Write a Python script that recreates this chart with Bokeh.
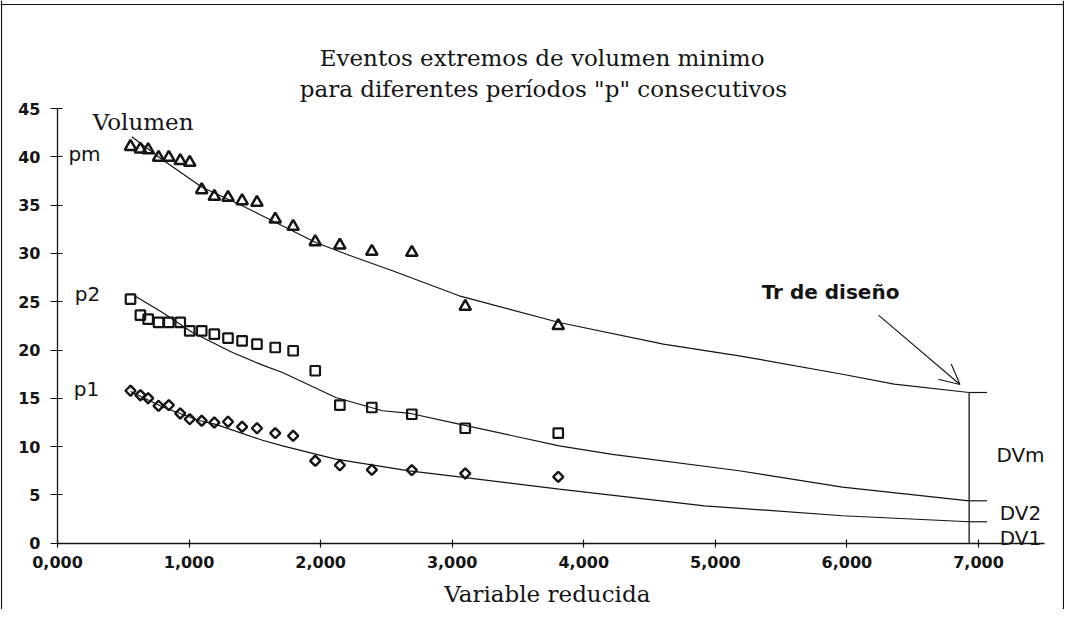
import math
from bokeh.plotting import figure
from bokeh.models import Range1d, FixedTicker, Span, Arrow, OpenHead, Label
from bokeh.embed import file_html
from bokeh.resources import INLINE

# ---------------- data ----------------
x_reducida = [0.555, 0.630, 0.689, 0.768, 0.846, 0.933, 1.005, 1.096, 1.192, 1.296,
              1.403, 1.516, 1.655, 1.791, 1.959, 2.146, 2.389, 2.693, 3.099, 3.806]
vol_pm = [41.06, 40.79, 40.72, 39.93, 39.93, 39.59, 39.41, 36.58, 35.89, 35.79,
          35.44, 35.27, 33.54, 32.78, 31.20, 30.85, 30.20, 30.09, 24.50, 22.51]
vol_p2 = [25.26, 23.60, 23.19, 22.85, 22.85, 22.85, 21.99, 21.99, 21.64, 21.22,
          20.95, 20.60, 20.26, 19.92, 17.85, 14.29, 14.05, 13.35, 11.90, 11.39]
vol_p1 = [15.78, 15.32, 15.01, 14.22, 14.29, 13.43, 12.84, 12.67, 12.49, 12.57,
          12.05, 11.90, 11.39, 11.12, 8.53, 8.07, 7.60, 7.56, 7.22, 6.87]

curve_pm_x = [0.565, 0.798, 1.102, 1.381, 1.659, 1.963, 2.217, 2.546, 3.053, 3.813,
              4.605, 5.181, 5.966, 6.359, 6.929]
curve_pm_y = [42.07, 39.69, 36.82, 35.09, 33.20, 31.13, 29.81, 28.20, 25.61, 22.85,
              20.60, 19.40, 17.49, 16.46, 15.60]
curve_p2_x = [0.595, 0.798, 1.026, 1.330, 1.558, 1.710, 2.115, 2.470, 2.683, 3.053,
              3.813, 4.218, 5.181, 5.966, 6.929]
curve_p2_y = [25.54, 23.88, 21.81, 19.74, 18.43, 17.67, 15.08, 13.71, 13.43, 12.32,
              10.08, 9.20, 7.50, 5.80, 4.39]
curve_p1_x = [0.555, 0.800, 1.076, 1.203, 1.558, 1.710, 2.115, 2.673, 3.053, 3.813,
              4.918, 5.966, 6.929]
curve_p1_y = [15.70, 14.10, 12.70, 12.30, 10.66, 10.08, 8.70, 7.49, 6.87, 5.59,
              3.87, 2.84, 2.22]

design_x = 6.929
design_dv = [15.60, 4.39, 2.22]
design_labels = ["DVm", "DV2", "DV1"]

x_ticks = [0, 1, 2, 3, 4, 5, 6, 7]
x_tick_labels = ["0,000", "1,000", "2,000", "3,000", "4,000", "5,000", "6,000", "7,000"]
y_ticks = [0, 5, 10, 15, 20, 25, 30, 35, 40, 45]

title_lines = ["Eventos extremos de volumen minimo",
               "para diferentes períodos \"p\" consecutivos"]
x_label = "Variable reducida"
y_label = "Volumen"
series_labels = ["pm", "p2", "p1"]

# ---------------- layout ----------------
W, H = 1064, 609
PX_X0, PX_PER_X = 57.0, 131.57     # canvas px of x = 0, px per unit
PX_Y0, PX_PER_Y = 542.7, 9.66      # canvas px (from top) of y = 0, px per unit

def dx(px):
    return (px - PX_X0) / PX_PER_X

def dy(py):
    return (PX_Y0 - py) / PX_PER_Y

p = figure(width=W, height=H, output_backend="svg", toolbar_location=None, tools="",
           x_range=Range1d(dx(0), dx(W)), y_range=Range1d(dy(H), dy(0)),
           min_border=0, min_border_left=0, min_border_right=0,
           min_border_top=0, min_border_bottom=0)
p.outline_line_color = None
p.grid.visible = False
p.background_fill_color = "white"
p.border_fill_color = "white"

INK = "#141414"

# axes fixed at the origin
for ax in (p.xaxis[0], p.yaxis[0]):
    ax.fixed_location = 0
    ax.axis_line_color = INK
    ax.axis_line_width = 1.3
    ax.major_tick_line_color = INK
    ax.major_tick_line_width = 1.2
    ax.minor_tick_line_color = None
    ax.major_label_text_font = "DejaVu Sans"
    ax.major_label_text_font_style = "bold"
    ax.major_label_text_font_size = "16px"
    ax.major_label_text_color = INK

xa = p.xaxis[0]
xa.bounds = (0, 7.5)
xa.ticker = FixedTicker(ticks=x_ticks)
xa.major_label_overrides = {t: lab for t, lab in zip(x_ticks, x_tick_labels)}
xa.major_tick_in = 4
xa.major_tick_out = 4
xa.major_label_standoff = 9

ya = p.yaxis[0]
ya.bounds = (0, 45)
ya.ticker = FixedTicker(ticks=y_ticks)
ya.major_tick_in = 5
ya.major_tick_out = 7
ya.major_label_standoff = 10

# outer frame (left, top, right)
p.add_layout(Span(location=dx(1), dimension="height", line_color=INK, line_width=1.2))
p.add_layout(Span(location=dx(W - 1), dimension="height", line_color=INK, line_width=1.2))
p.add_layout(Span(location=dy(4), dimension="width", line_color=INK, line_width=1.2))

# fitted curves
for cx, cy in ((curve_pm_x, curve_pm_y), (curve_p2_x, curve_p2_y), (curve_p1_x, curve_p1_y)):
    p.line(cx, cy, line_color=INK, line_width=1.2)

# observed points
p.scatter(x_reducida, vol_pm, marker="triangle", size=11.5, fill_color=None,
          line_color=INK, line_width=2.5)
p.scatter(x_reducida, vol_p2, marker="square", size=9.5, fill_color=None,
          line_color=INK, line_width=2.2)
p.scatter(x_reducida, vol_p1, marker="square", angle=math.pi / 4, size=7.2,
          fill_color=None, line_color=INK, line_width=2.4)

# design return-period line
p.segment(x0=[design_x], y0=[0], x1=[design_x], y1=[design_dv[0]],
          line_color=INK, line_width=1.3)
p.segment(x0=[design_x] * 3, y0=design_dv, x1=[design_x + 0.136] * 3, y1=design_dv,
          line_color=INK, line_width=1.2)

p.add_layout(Arrow(end=OpenHead(size=20, line_color=INK, line_width=1.1),
                   x_start=dx(878), y_start=dy(314.7), x_end=dx(959.5), y_end=dy(384),
                   line_color=INK, line_width=1.1))

# texts
serif = "DejaVu Serif"
sans = "DejaVu Sans"
p.add_layout(Label(x=dx(541.6), y=dy(57.7), text=title_lines[0], text_align="center",
                   text_baseline="alphabetic", text_font=serif, text_font_size="23px",
                   text_color=INK))
p.add_layout(Label(x=dx(543), y=dy(88.7), text=title_lines[1], text_align="center",
                   text_baseline="alphabetic", text_font=serif, text_font_size="23px",
                   text_color=INK))
p.add_layout(Label(x=dx(142.6), y=dy(121.3), text=y_label, text_align="center",
                   text_baseline="alphabetic", text_font=serif, text_font_size="23px",
                   text_color=INK))
p.add_layout(Label(x=dx(546.8), y=dy(593.7), text=x_label, text_align="center",
                   text_baseline="alphabetic", text_font=serif, text_font_size="23px",
                   text_color=INK))

for lab, lx, ly in zip(series_labels, (84, 87, 86), (153.7, 293.7, 388.7)):
    p.add_layout(Label(x=dx(lx), y=dy(ly), text=lab, text_align="center",
                       text_baseline="alphabetic", text_font=sans, text_font_size="20px",
                       text_color=INK))

p.add_layout(Label(x=dx(830), y=dy(291), text="Tr de diseño", text_align="center",
                   text_baseline="alphabetic", text_font=sans, text_font_size="20px",
                   text_font_style="bold", text_color=INK))

for lab, ly in zip(design_labels, (454.3, 512, 537)):
    p.add_layout(Label(x=dx(1020), y=dy(ly), text=lab, text_align="center",
                       text_baseline="alphabetic", text_font=sans, text_font_size="20px",
                       text_color=INK))

open("out.html", "w").write(file_html(p, INLINE))
